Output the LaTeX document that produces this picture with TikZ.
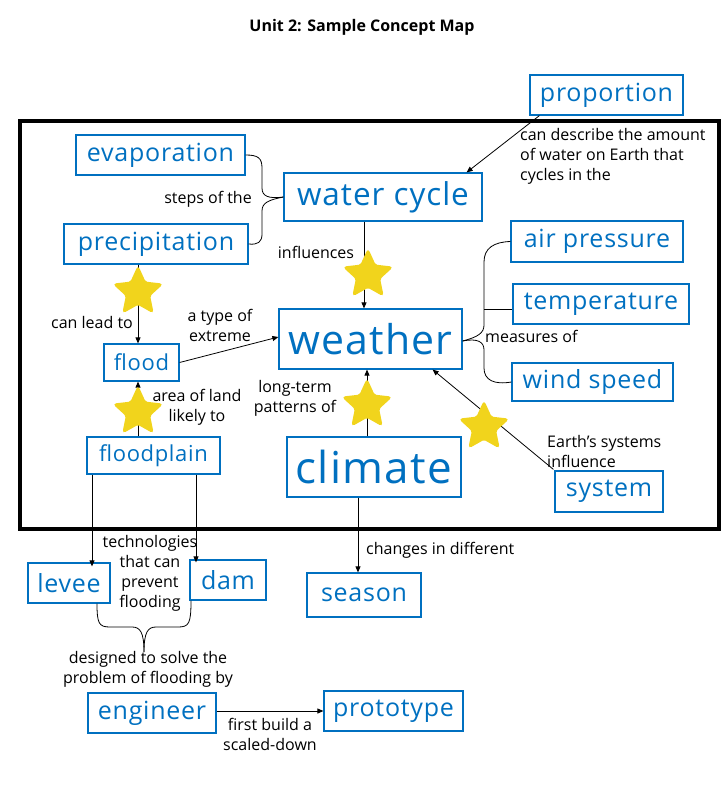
\documentclass[tikz,border=0pt]{standalone}
\usepackage{fontspec}
\setmainfont{Open Sans}
\newfontfamily\boxfont[LetterSpace=3]{Open Sans}
\usetikzlibrary{shapes.geometric,arrows.meta,calc}
\definecolor{cmblue}{HTML}{0070C0}
\definecolor{staryel}{HTML}{F1D41C}
\begin{document}
\begin{tikzpicture}[x=1pt,y=-1pt,
  cbox/.style={draw=cmblue,line width=1.2pt,text=cmblue,inner sep=0pt,anchor=center,font=\boxfont\fontsize{25}{28}\selectfont},
  lbl/.style={font=\fontsize{16}{20}\selectfont,inner sep=0pt,text=black},
  conn/.style={draw=black,line width=0.8pt},
  arr/.style={conn,-{Triangle[length=6pt,width=5pt]}},
  starn/.style={star,star points=5,star point ratio=2.1,fill=staryel,draw=staryel,line width=2pt,rounded corners=2pt,minimum size=49pt,inner sep=0pt}]
\useasboundingbox (0,0) rectangle (724,797);
\node[font=\bfseries\fontsize{16}{19}\selectfont] (title) at (362,27) {Unit 2: Sample Concept Map};
\draw[line width=4pt] (20,121) rectangle (719,529);
% boxes
\node[cbox,minimum width=153pt,minimum height=40pt] (prop) at (606.5,95) {proportion};
\node[cbox,minimum width=169pt,minimum height=40pt] (evap) at (160.5,155) {evaporation};
\node[cbox,minimum width=184pt,minimum height=40pt] (prec) at (156,244) {precipitation};
\node[cbox,minimum width=198pt,minimum height=48pt,font=\boxfont\fontsize{31.5}{34}\selectfont] (wc) at (383,197) {water cycle};
\node[cbox,minimum width=172pt,minimum height=41pt] (airp) at (597,241.5) {air pressure};
\node[cbox,minimum width=176pt,minimum height=40pt] (temp) at (601,304) {temperature};
\node[cbox,minimum width=161pt,minimum height=38pt] (wind) at (592.5,382) {wind speed};
\node[cbox,minimum width=183pt,minimum height=60pt,font=\boxfont\fontsize{41}{44}\selectfont] (weather) at (370.5,339) {weather};
\node[cbox,minimum width=75pt,minimum height=37pt,font=\boxfont\fontsize{22}{26}\selectfont] (flood) at (141.5,362.5) {flood};
\node[cbox,minimum width=133pt,minimum height=37pt,font=\boxfont\fontsize{22}{26}\selectfont] (fp) at (153.5,455.5) {floodplain};
\node[cbox,minimum width=174pt,minimum height=60pt,font=\boxfont\fontsize{44}{48}\selectfont] (climate) at (374,467) {climate};
\node[cbox,minimum width=108pt,minimum height=41pt] (sys) at (609,491.5) {system};
\node[cbox,minimum width=82pt,minimum height=40pt] (levee) at (69,583) {levee};
\node[cbox,minimum width=76pt,minimum height=40pt] (dam) at (228,580) {dam};
\node[cbox,minimum width=114pt,minimum height=44pt] (season) at (364,595) {season};
\node[cbox,minimum width=128pt,minimum height=40pt] (eng) at (152,713) {engineer};
\node[cbox,minimum width=139pt,minimum height=40pt] (proto) at (393.5,711) {prototype};
% labels
\node[lbl,anchor=east] (l1) at (252,199) {steps of the};
\node[lbl] (l2) at (316,252) {influences};
\node[lbl] (l3) at (92,322) {can lead to};
\node[lbl,align=center] (l4) at (220,325) {a type of\\extreme};
\node[lbl,align=center] (l5) at (197,407) {area of land\\likely to};
\node[lbl,align=center] (l6) at (295,398) {long-term\\patterns of};
\node[lbl,anchor=west] (l7) at (485,336) {measures of};
\node[lbl,anchor=west,align=left] (l8) at (547,451) {Earth’s systems\\influence};
\node[lbl,anchor=west] (l9) at (366,550) {changes in different};
\node[lbl,align=center] (l10) at (150,573) {technologies\\that can\\prevent\\flooding};
\node[lbl,align=center] (l11) at (148,669) {designed to solve the\\problem of flooding by};
\node[lbl,align=center] (l12) at (270,734) {first build a\\scaled-down};
\node[lbl,anchor=west,align=left] (l13) at (520,156) {can describe the amount\\of water on Earth that\\cycles in the};
% connectors
\draw[arr] ([xshift=10pt]prop.south west) -- ([xshift=-16pt]wc.north east);
\draw[arr] ([xshift=-19pt]wc.south) -- ([xshift=-6.5pt]weather.north);
\draw[arr] ([xshift=-18pt]prec.south) -- ([xshift=-3.5pt]flood.north);
\draw[arr] (flood.east) -- ([yshift=2pt]weather.west);
\draw[arr] ([xshift=-15.5pt]fp.south |- fp.north) -- ([xshift=-3.5pt]flood.south);
\draw[arr] ([xshift=-7pt]climate.north) -- ([xshift=-3.5pt]weather.south);
\draw[arr] ([xshift=-1pt,yshift=1pt]sys.north west) -- ([xshift=-30pt]weather.south east);
\draw[arr] ([xshift=-16pt]climate.south) -- ([xshift=-6pt]season.north);
\coordinate (fpl) at ([xshift=-61.5pt]fp.south);
\coordinate (fpr) at ([xshift=42.5pt]fp.south);
\draw[arr] (fpl) -- ([yshift=-4pt]fpl |- levee.north);
\draw[arr] (fpr) -- ([yshift=-3pt]fpr |- dam.north);
\draw[arr] ([yshift=2pt]eng.east) -- (proto.west);
% braces
\draw[conn] (evap.east) .. controls (258,155) and (262,158) .. (262,168) -- (262,188) .. controls (262,196) and (268,199) .. (wc.west);
\draw[conn] (wc.west) .. controls (268,200) and (262,203) .. (262,211) -- (262,234) .. controls (262,242) and (258,245) .. (prec.east);
\coordinate (wbp) at ([yshift=-2pt]weather.east);
\draw[conn] (wbp) .. controls (478,337) and (484,333) .. (484,325) -- (484,262) .. controls (484,248) and (494,242) .. (airp.west);
\draw[conn] (wbp) .. controls (478,338) and (484,342) .. (484,350) -- (484,368) .. controls (484,380) and (494,385) .. (wind.west);
\coordinate (tj) at (484,309);
\draw[conn] (tj) -- (tj -| temp.west);
\coordinate (bpt) at (144,652);
\draw[conn] ([xshift=28pt]levee.south) .. controls ++(0,20) and (99,627) .. (110,627) -- (132,627) .. controls (140,627) and (144,632) .. (bpt);
\draw[conn] ([xshift=-37pt]dam.south) .. controls ++(0,23) and (189,627) .. (178,627) -- (156,627) .. controls (148,627) and (144,632) .. (bpt);
% stars
\node[starn] (s1) at (138,292) {};
\node[starn] (s2) at (368,275) {};
\node[starn] (s3) at (138,412) {};
\node[starn] (s4) at (367,405) {};
\node[starn] (s5) at (484,427) {};
\end{tikzpicture}
\end{document}
